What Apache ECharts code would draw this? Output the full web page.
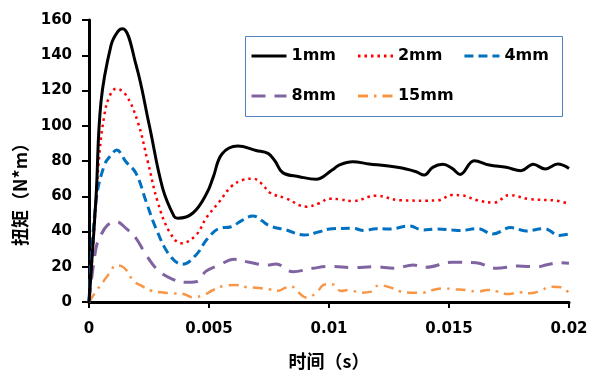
<!DOCTYPE html>
<html>
<head>
<meta charset="utf-8">
<script src="https://cdn.jsdelivr.net/npm/echarts@6/dist/echarts.min.js"></script>
<style>
html,body{margin:0;padding:0;background:#fff;}
#c{width:606px;height:381px;}
</style>
</head>
<body>
<div id="c"></div>
<script>
// ---- data (time in s, torque in N*m) ----
var seriesNames = ['1mm', '2mm', '4mm', '8mm', '15mm'];
var xTickLabels = ['0', '0.005', '0.01', '0.015', '0.02'];

var t1mm = [0, 0.00029, 0.0005, 0.00092, 0.0012, 0.0014, 0.00196, 0.00251, 0.00307, 0.00355, 0.0037, 0.00433, 0.0049, 0.00518, 0.00554, 0.0062, 0.00696, 0.00746, 0.00775, 0.00807, 0.00876, 0.00946, 0.01013, 0.01042, 0.01099, 0.01167, 0.01238, 0.01321, 0.01363, 0.01397, 0.01432, 0.01474, 0.01513, 0.01546, 0.01605, 0.01668, 0.01738, 0.018, 0.01851, 0.01901, 0.01953, 0.02];
var v1mm = [0, 58.8, 113.6, 145.8, 153.4, 155, 134.5, 100.4, 64.5, 48.4, 47.5, 50.5, 61.5, 71, 84, 88.5, 86, 84.3, 80, 73.4, 71.1, 69.6, 74.9, 77.7, 79.6, 78.3, 77.3, 75.5, 73.9, 72, 76.4, 78.1, 75.8, 72.4, 80.2, 77.7, 76.4, 74.5, 78.1, 75.5, 78.3, 75.8];

var t2mm = [0, 0.00022, 0.00043, 0.00064, 0.00085, 0.00113, 0.00154, 0.00203, 0.00245, 0.00286, 0.00335, 0.00385, 0.00446, 0.0049, 0.00543, 0.00592, 0.0064, 0.00683, 0.00721, 0.00754, 0.00821, 0.00906, 0.0096, 0.01, 0.01043, 0.01099, 0.01196, 0.01296, 0.01404, 0.01454, 0.01513, 0.01554, 0.01613, 0.01688, 0.01752, 0.01833, 0.01946, 0.02];
var v2mm = [0, 41.8, 83.4, 106, 116.5, 121, 117.4, 102.3, 79.6, 56.9, 39.9, 33.3, 38, 48, 56.9, 65.4, 69.2, 70, 67, 62, 58.8, 54.1, 56, 58.6, 58.3, 57.3, 60.3, 57.7, 57.5, 57.7, 60.7, 60.5, 57.9, 56.4, 60.7, 58.4, 57.5, 55.6];

var t4mm = [0, 0.00029, 0.00064, 0.00092, 0.00115, 0.00154, 0.00196, 0.00238, 0.00279, 0.00335, 0.0039, 0.00446, 0.00494, 0.00543, 0.00592, 0.0064, 0.00682, 0.00751, 0.00821, 0.00897, 0.0096, 0.01013, 0.01099, 0.01147, 0.01196, 0.01251, 0.01335, 0.0139, 0.01446, 0.01513, 0.01543, 0.0162, 0.01682, 0.01758, 0.01821, 0.01897, 0.0196, 0.02];
var v4mm = [0, 57, 77.7, 83.4, 86.2, 79.6, 73, 57, 41.8, 26.7, 21.4, 26.7, 36, 41.8, 42.7, 46.5, 48.8, 43.3, 40.9, 38, 39.9, 41.6, 41.8, 40.5, 41.6, 41.4, 43.1, 40.9, 41.4, 40.9, 40.5, 41.6, 38.6, 42.2, 40.3, 41.6, 37.8, 38.6];

var t8mm = [0, 0.00029, 0.0005, 0.00078, 0.00113, 0.00154, 0.00196, 0.00238, 0.00286, 0.00349, 0.00404, 0.00446, 0.00488, 0.00543, 0.00605, 0.00668, 0.00745, 0.00779, 0.00849, 0.00932, 0.01008, 0.01099, 0.01189, 0.01272, 0.01351, 0.01404, 0.01513, 0.01613, 0.01696, 0.01786, 0.0187, 0.01904, 0.0196, 0.02];
var v8mm = [0, 30.4, 38, 43.7, 45.6, 41.8, 36.1, 26.7, 18.2, 12.9, 11.2, 11.5, 17.5, 21, 24.2, 22.5, 21, 21.6, 17.2, 19.1, 20.2, 19.5, 20, 19.1, 21, 19.7, 22.6, 22.3, 19.1, 20.4, 20, 21, 22.3, 22];

var t15mm = [0, 0.00029, 0.00058, 0.00085, 0.00113, 0.00133, 0.00156, 0.00185, 0.00221, 0.00258, 0.003, 0.00346, 0.00392, 0.00433, 0.00479, 0.00517, 0.00563, 0.00613, 0.00661, 0.00696, 0.0075, 0.00788, 0.00817, 0.00842, 0.00871, 0.00906, 0.00946, 0.00983, 0.01017, 0.0105, 0.01083, 0.01133, 0.01175, 0.01208, 0.01254, 0.013, 0.01342, 0.0139, 0.01432, 0.01474, 0.01522, 0.01571, 0.0162, 0.01661, 0.01703, 0.01745, 0.01793, 0.01835, 0.01876, 0.01925, 0.01971, 0.02];
var v15mm = [0, 6, 11.3, 16.3, 20.8, 20.5, 18, 12, 9, 6.5, 5.5, 4.9, 4.6, 2.7, 4, 6.8, 9.1, 9.6, 8.3, 8.1, 7.2, 6.4, 8, 9, 5.6, 2.6, 5, 10, 10, 6.2, 6.8, 5.3, 5.9, 9.6, 8.3, 5.9, 5.3, 5.3, 6.8, 7.7, 7.2, 6.8, 5.9, 6.8, 5.9, 4.5, 5.5, 4.9, 6.1, 8.7, 8.3, 4.9];

function pairs(t, v) { return t.map(function (x, i) { return [x, v[i]]; }); }

var LF = 'DejaVu Sans';
var CJK = '"Noto Sans CJK SC"';

var styles = [
  { color: '#000000', width: 3, type: 'solid' },
  { color: '#FF0000', width: 2.5, type: [2.5, 4] },
  { color: '#0070C0', width: 3, type: [9, 5] },
  { color: '#8064A2', width: 3, type: [14, 9] },
  { color: '#F79646', width: 2.5, type: [10, 6, 2.5, 6] }
];
var allData = [pairs(t1mm, v1mm), pairs(t2mm, v2mm), pairs(t4mm, v4mm), pairs(t8mm, v8mm), pairs(t15mm, v15mm)];

var series = seriesNames.map(function (n, i) {
  return {
    name: n,
    type: 'line',
    data: allData[i],
    smooth: 0.4,
    symbol: 'none',
    lineStyle: { color: styles[i].color, width: styles[i].width, type: styles[i].type },
    itemStyle: { color: styles[i].color },
    z: 10 - i
  };
});

var legendCommon = {
  orient: 'horizontal',
  padding: 0,
  itemWidth: 35,
  itemHeight: 14,
  itemGap: 20.5,
  z: 20,
  itemStyle: { opacity: 0 },
  lineStyle: { width: 3 },
  textStyle: { fontFamily: LF, fontWeight: 'bold', fontSize: 16, color: '#000' }
};

var chart = echarts.init(document.getElementById('c'), null, { renderer: 'canvas' });
chart.setOption({
  backgroundColor: '#fff',
  animation: false,
  grid: { left: 89, right: 37, top: 20, bottom: 79 },
  legend: [
    Object.assign({}, legendCommon, { data: seriesNames.slice(0, 3), left: 250, top: 48 }),
    Object.assign({}, legendCommon, { data: seriesNames.slice(3), left: 250, top: 88 })
  ],
  graphic: [
    { type: 'rect', z: 1, shape: { x: 245.5, y: 36.5, width: 317, height: 80 }, style: { fill: '#fff', stroke: '#4F81BD', lineWidth: 1 } },
    { type: 'text', x: 20, y: 190, rotation: Math.PI / 2, style: { text: '扭矩（N*m）', fontFamily: CJK, fontWeight: 'bold', fontSize: 18, fill: '#000', textAlign: 'center', textVerticalAlign: 'middle' } }
  ],
  xAxis: {
    type: 'value', min: 0, max: 0.02, interval: 0.005,
    name: '时间（s）', nameLocation: 'middle', nameGap: 50,
    nameTextStyle: { fontFamily: CJK, fontWeight: 'bold', fontSize: 18, color: '#000' },
    axisLine: { show: true, lineStyle: { color: '#000', width: 3 } },
    axisTick: { show: true, inside: false, length: 6, lineStyle: { color: '#000', width: 2 } },
    axisLabel: { margin: 20, fontFamily: LF, fontWeight: 'bold', fontSize: 15, color: '#000',
      formatter: function (v) { return xTickLabels[Math.round(v / 0.005)]; } },
    splitLine: { show: false }
  },
  yAxis: {
    type: 'value', min: 0, max: 160, interval: 20,
    axisLine: { show: true, lineStyle: { color: '#000', width: 3 } },
    axisTick: { show: true, inside: false, length: 7, lineStyle: { color: '#000', width: 2 } },
    axisLabel: { margin: 17, fontFamily: LF, fontWeight: 'bold', fontSize: 15, color: '#000' },
    splitLine: { show: false }
  },
  series: series
});
</script>
</body>
</html>
